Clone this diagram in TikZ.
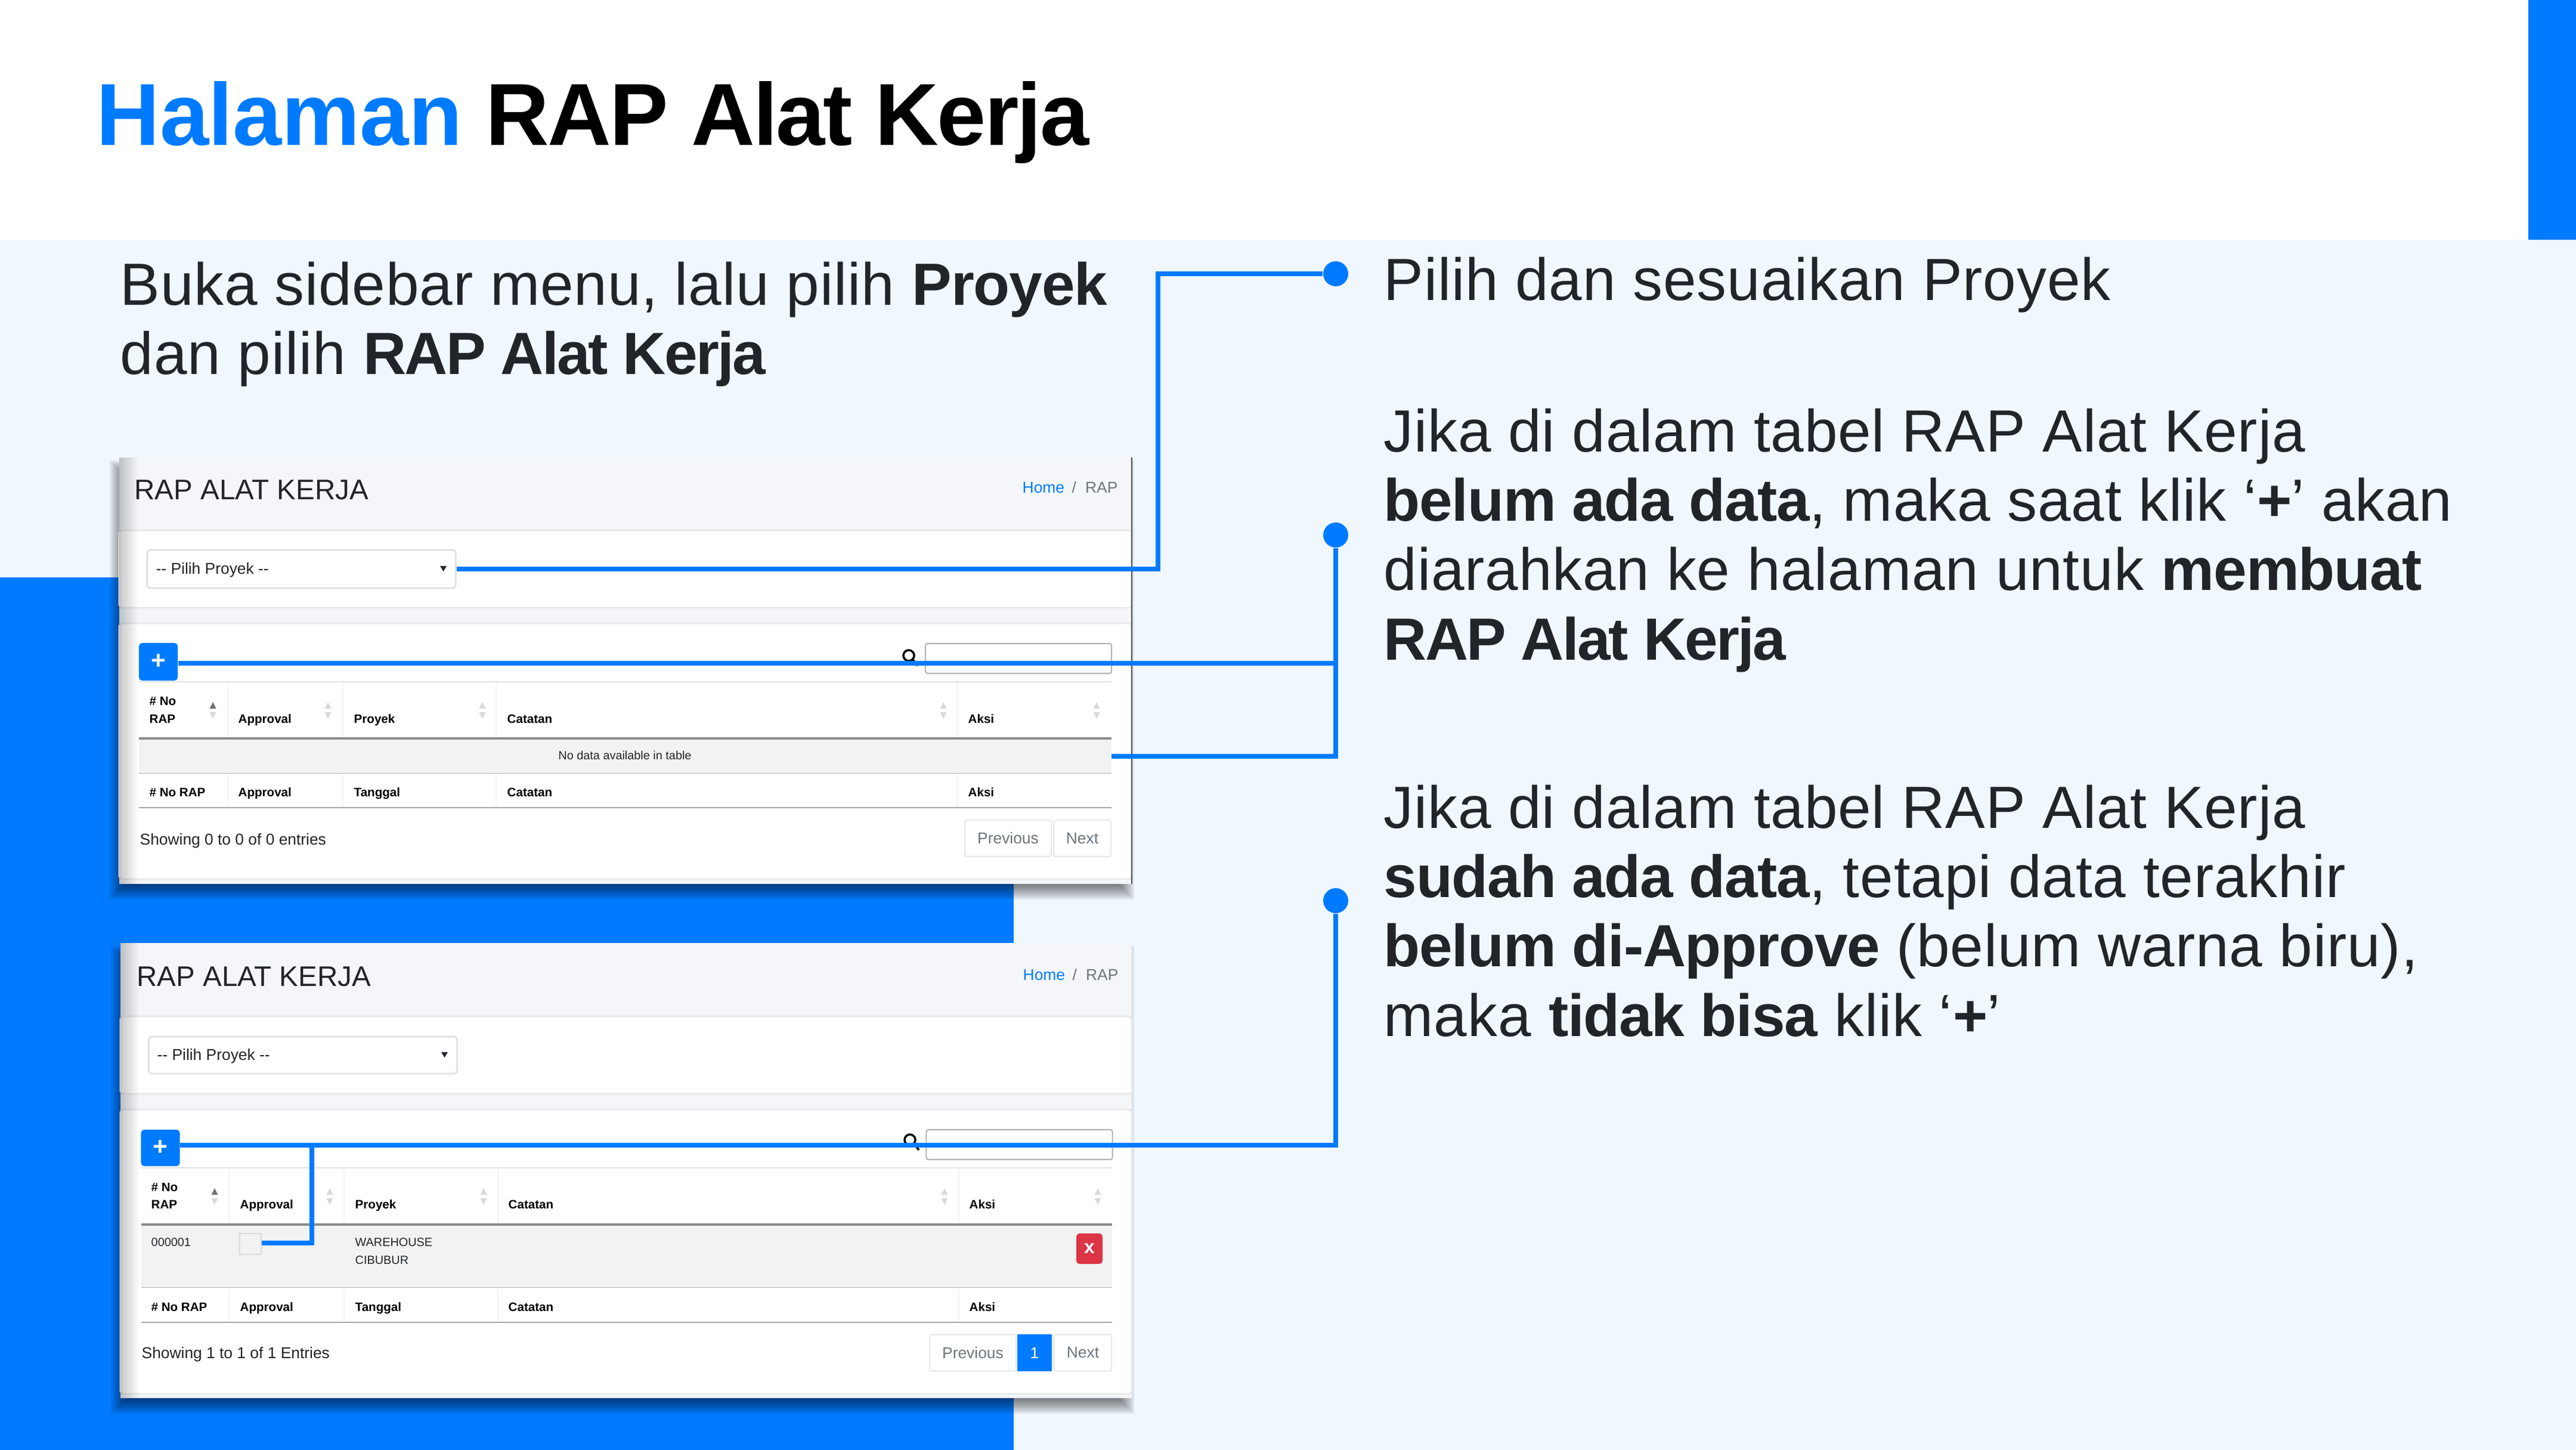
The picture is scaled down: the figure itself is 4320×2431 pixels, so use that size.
\documentclass[tikz,border=0pt]{standalone}
\usepackage{fontspec}
\setmainfont[LetterSpace=0.9,BoldFeatures={LetterSpace=-1.2}]{Liberation Sans}
\newfontfamily\uifont{Liberation Sans}
\newfontfamily\tightfont[BoldFeatures={LetterSpace=-2.8}]{Liberation Sans}
\newfontfamily\titlefont[BoldFeatures={LetterSpace=-1.9}]{Liberation Sans}
\newfontfamily\wordfont[BoldFeatures={LetterSpace=-0.2}]{Liberation Sans}
\usetikzlibrary{positioning,fadings}
\definecolor{bluemain}{HTML}{007BFF}
\definecolor{slidebg}{HTML}{F0F7FF}
\definecolor{inkdark}{HTML}{212529}
\definecolor{pagebg}{HTML}{F4F6F9}
\definecolor{rowbg}{HTML}{F2F2F2}
\definecolor{linegray}{HTML}{DEE2E6}
\definecolor{mutedgray}{HTML}{6C757D}
\definecolor{redbtn}{HTML}{DC3545}
\newcommand{\sortmarks}[3]{%
  \fill[#3] (#1-5.5,#2+5) -- (#1+5.5,#2+5) -- (#1,#2-6) -- cycle;
  \fill[black!15] (#1-5.5,#2+11) -- (#1+5.5,#2+11) -- (#1,#2+22) -- cycle;
}
\begin{document}
\begin{tikzpicture}[x=0.01cm,y=-0.01cm,
    slidetext/.style={inner sep=0,anchor=base west,align=left,text=inkdark,
      font=\fontsize{28.4}{33}\selectfont},
    uitext/.style={inner sep=0,anchor=base west,text=inkdark,font=\uifont\fontsize{7.5}{9}\selectfont},
    tinytext/.style={inner sep=0,anchor=base west,text=inkdark,font=\uifont\fontsize{5.65}{7}\selectfont},
    thtext/.style={inner sep=0,anchor=base west,text=black,font=\uifont\bfseries\fontsize{5.85}{7}\selectfont},
    titletext/.style={inner sep=0,anchor=base west,text=inkdark,font=\uifont\fontsize{13.5}{16}\selectfont},
    cardbox/.style={fill=white,draw=black!9,line width=0.8pt,rounded corners=1.5pt},
    selbox/.style={draw=black!12,fill=white,line width=0.8pt,rounded corners=1.5pt,inner sep=0,minimum width=5.17cm},
    searchbox/.style={draw=black!30,fill=white,line width=0.6pt,rounded corners=1pt,inner sep=0,minimum width=3.12cm},
    plusbtn/.style={fill=bluemain,rounded corners=1.5pt,inner sep=0,minimum width=0.65cm,minimum height=0.63cm,
      text=white,font=\uifont\bfseries\fontsize{12}{12}\selectfont},
    pagebtn/.style={draw=black!9,fill=white,line width=0.6pt,rounded corners=1pt,inner sep=0,minimum height=0.61cm,
      text=mutedgray,font=\uifont\fontsize{7.5}{9}\selectfont},
    conn/.style={draw=bluemain,line width=0.08cm,line join=miter},
    dotmark/.style={circle,fill=bluemain,inner sep=0,minimum size=0.42cm}]
  \useasboundingbox (0,0) rectangle (4320,2431);
  % slide background
  \fill[white] (0,0) rectangle (4320,402);
  \fill[slidebg] (0,402) rectangle (4320,2431);
  \fill[bluemain] (4240,0) rectangle (4320,402);
  \fill[bluemain] (0,968) rectangle (1700,2431);
  % title
  \node[inner sep=0,anchor=base west,font=\bfseries\fontsize{42}{48}\selectfont] (slidetitle) at (161,244)
    {\textcolor{bluemain}{\wordfont Halaman} \textcolor{black}{\titlefont RAP Alat Kerja}};
  \node[slidetext] (intro) at (201,628) {Buka sidebar menu, lalu pilih \textbf{Proyek}\\dan pilih \textbf{\tightfont RAP Alat Kerja}};
  % right side text
  \node[slidetext] (step1) at (2320,504) {Pilih dan sesuaikan Proyek};
  \node[slidetext] (step2) at (2320,1106) {Jika di dalam tabel RAP Alat Kerja\\\textbf{belum ada data}, maka saat klik ‘\textbf{+}’ akan\\diarahkan ke halaman untuk \textbf{membuat}\\\textbf{\tightfont RAP Alat Kerja}};
  \node[slidetext] (step3) at (2320,1737) {Jika di dalam tabel RAP Alat Kerja\\\textbf{sudah ada data}, tetapi data terakhir\\\textbf{belum di-Approve} (belum warna biru),\\maka \textbf{tidak bisa} klik ‘\textbf{+}’};
  % shadows of the two screenshots
  \foreach \s in {0,3,...,24} {
    \fill[black,opacity=0.07] (184+\s,772+\s) rectangle (1902-\s,1508-\s);
    \fill[black,opacity=0.07] (186+\s,1586+\s) rectangle (1902-\s,2370-\s);
  }
  %
  % first screenshot
  \fill[pagebg] (200,767) rectangle (1898,1482);
  \node[titletext] (title1) at (225,838) {RAP ALAT KERJA};
  \node[uitext,text=bluemain] (home1) at (1714,827) {Home};
  \node[uitext,text=mutedgray] (crumb1) at (1797,827) {/\hspace{4.3pt}RAP};
  \draw[cardbox] (200,889) rectangle (1898,1019);
  \node[selbox,minimum height=0.64cm] (select1) at (505.5,954) {};
  \node[uitext] (seltext1) at (261,962) {-- Pilih Proyek --};
  \fill[inkdark] (738,949) -- (749,949) -- (743.5,958) -- cycle;
  \draw[cardbox] (200,1045) rectangle (1898,1474);
  \fill[black,opacity=0.22,path fading=east] (200,767) rectangle (232,1482);
  \draw[black!70,line width=0.4pt] (1898,767) -- (1898,1482);
  \node[plusbtn] (plus1) at (265.5,1109.5) {+};
  \draw[black,line width=1pt] (1524,1099) circle (9) (1531,1106) -- (1539,1116);
  \node[searchbox,minimum height=0.5cm] (search1) at (1708,1104) {};
  \draw[linegray,line width=0.8pt] (233,1143) -- (1864,1143);
  \foreach \x in {382,575,832,1605} \draw[black!5,line width=0.8pt] (\x,1145) -- (\x,1236) (\x,1300) -- (\x,1352);
  \fill[rowbg] (233,1239) rectangle (1864,1296);
  \draw[black!45,line width=0.9pt] (233,1238) -- (1864,1238);
  \draw[black!30,line width=0.5pt] (233,1296.5) -- (1864,1296.5);
  \draw[black!35,line width=0.8pt] (233,1354) -- (1864,1354);
  \node[thtext] (noa1) at (250,1182) {\# No};
  \node[thtext] (nob1) at (250,1212) {RAP};
  \foreach \x/\t in {399/Approval,593/Proyek,850/Catatan,1623/Aksi}
    \node[thtext] (top\x) at (\x,1212) {\t};
  \foreach \x/\t in {250/\# No RAP,399/Approval,593/Tanggal,850/Catatan,1623/Aksi}
    \node[thtext] (bot\x) at (\x,1335) {\t};
  \sortmarks{357}{1183}{black!55}
  \foreach \x in {550,809,1582,1839} {\sortmarks{\x}{1183}{black!15}}
  \node[tinytext,anchor=base] (nodata) at (1048,1273) {No data available in table};
  \node[uitext] (showing1) at (234,1416) {Showing 0 to 0 of 0 entries};
  \node[pagebtn,minimum width=1.45cm] (prev1) at (1690.5,1405.5) {Previous};
  \node[pagebtn,minimum width=0.96cm] (next1) at (1815,1405.5) {Next};
  %
  % second screenshot
  \fill[pagebg] (202,1581) rectangle (1898,2344);
  \node[titletext] (title2) at (229,1653) {RAP ALAT KERJA};
  \node[uitext,text=bluemain] (home2) at (1715,1643) {Home};
  \node[uitext,text=mutedgray] (crumb2) at (1798,1643) {/\hspace{4.3pt}RAP};
  \draw[cardbox] (202,1704) rectangle (1898,1834);
  \node[selbox,minimum height=0.62cm] (select2) at (508,1769) {};
  \node[uitext] (seltext2) at (263,1777) {-- Pilih Proyek --};
  \fill[inkdark] (740,1764) -- (751,1764) -- (745.5,1773) -- cycle;
  \draw[cardbox] (202,1860) rectangle (1898,2337);
  \fill[black,opacity=0.22,path fading=east] (202,1581) rectangle (234,2344);
  \node[plusbtn,minimum height=0.61cm] (plus2) at (269,1924.5) {+};
  \draw[black,line width=1pt] (1526,1911) circle (9) (1533,1918) -- (1541,1928);
  \node[searchbox,minimum height=0.5cm] (search2) at (1709.5,1919) {};
  \draw[linegray,line width=0.8pt] (237,1958) -- (1865,1958);
  \foreach \x in {384,577,835,1608} \draw[black!5,line width=0.8pt] (\x,1960) -- (\x,2051) (\x,2162) -- (\x,2215);
  \fill[rowbg] (237,2055) rectangle (1865,2158);
  \draw[black!45,line width=0.9pt] (237,2053) -- (1865,2053);
  \draw[black!30,line width=0.5pt] (237,2158.5) -- (1865,2158.5);
  \draw[black!35,line width=0.8pt] (237,2217) -- (1865,2217);
  \node[thtext] (noa2) at (253,1997) {\# No};
  \node[thtext] (nob2) at (253,2026) {RAP};
  \foreach \x/\t in {402/Approval,595/Proyek,852/Catatan,1625/Aksi}
    \node[thtext] (top\x) at (\x,2026) {\t};
  \foreach \x/\t in {253/\# No RAP,402/Approval,595/Tanggal,852/Catatan,1625/Aksi}
    \node[thtext] (bot\x) at (\x,2198) {\t};
  \sortmarks{360}{1998}{black!55}
  \foreach \x in {553,811,1584,1841} {\sortmarks{\x}{1998}{black!15}}
  \node[tinytext] (rapno) at (253,2089) {000001};
  \node[tinytext] (wh) at (595,2089) {WAREHOUSE};
  \node[tinytext] (cb) at (595,2119) {CIBUBUR};
  \node[draw=black!15,fill=rowbg,line width=0.6pt,inner sep=0,minimum width=0.36cm,minimum height=0.35cm] (check) at (420,2085.5) {};
  \node[fill=redbtn,rounded corners=1.5pt,inner sep=0,minimum width=0.44cm,minimum height=0.51cm,
    text=white,font=\uifont\bfseries\fontsize{9}{9}\selectfont] (delbtn) at (1827,2093.5) {x};
  \node[uitext] (showing2) at (237,2277) {Showing 1 to 1 of 1 Entries};
  \node[pagebtn,minimum width=1.45cm] (prev2) at (1631.5,2268) {Previous};
  \node[fill=bluemain,inner sep=0,minimum width=0.58cm,minimum height=0.61cm,text=white,font=\uifont\fontsize{7.5}{9}\selectfont] (pg1) at (1735,2268) {1};
  \node[pagebtn,minimum width=0.96cm] (next2) at (1816,2268) {Next};
  %
  % dots and connectors
  \node[dotmark] (dot1) at (2240,459) {};
  \node[dotmark] (dot2) at (2240,897) {};
  \node[dotmark] (dot3) at (2240,1510) {};
  \coordinate (rowend) at (1864,1268);
  \coordinate (bendone) at (1942,459);
  \coordinate (bendfour) at (523,1920);
  \draw[conn] (select1.east) -- (select1.east -| bendone) -- (bendone) -- (dot1);
  \draw[conn] (plus1.east |- 0,1112) -- (dot2 |- 0,1112);
  \draw[conn] (dot2) -- (dot2 |- rowend) -- (rowend);
  \draw[conn] (plus2.east |- 0,1920) -- (dot3 |- 0,1920) -- (dot3);
  \draw[conn] (check.east |- 0,2084) -- (bendfour |- 0,2084) -- (bendfour);
\end{tikzpicture}
\end{document}
